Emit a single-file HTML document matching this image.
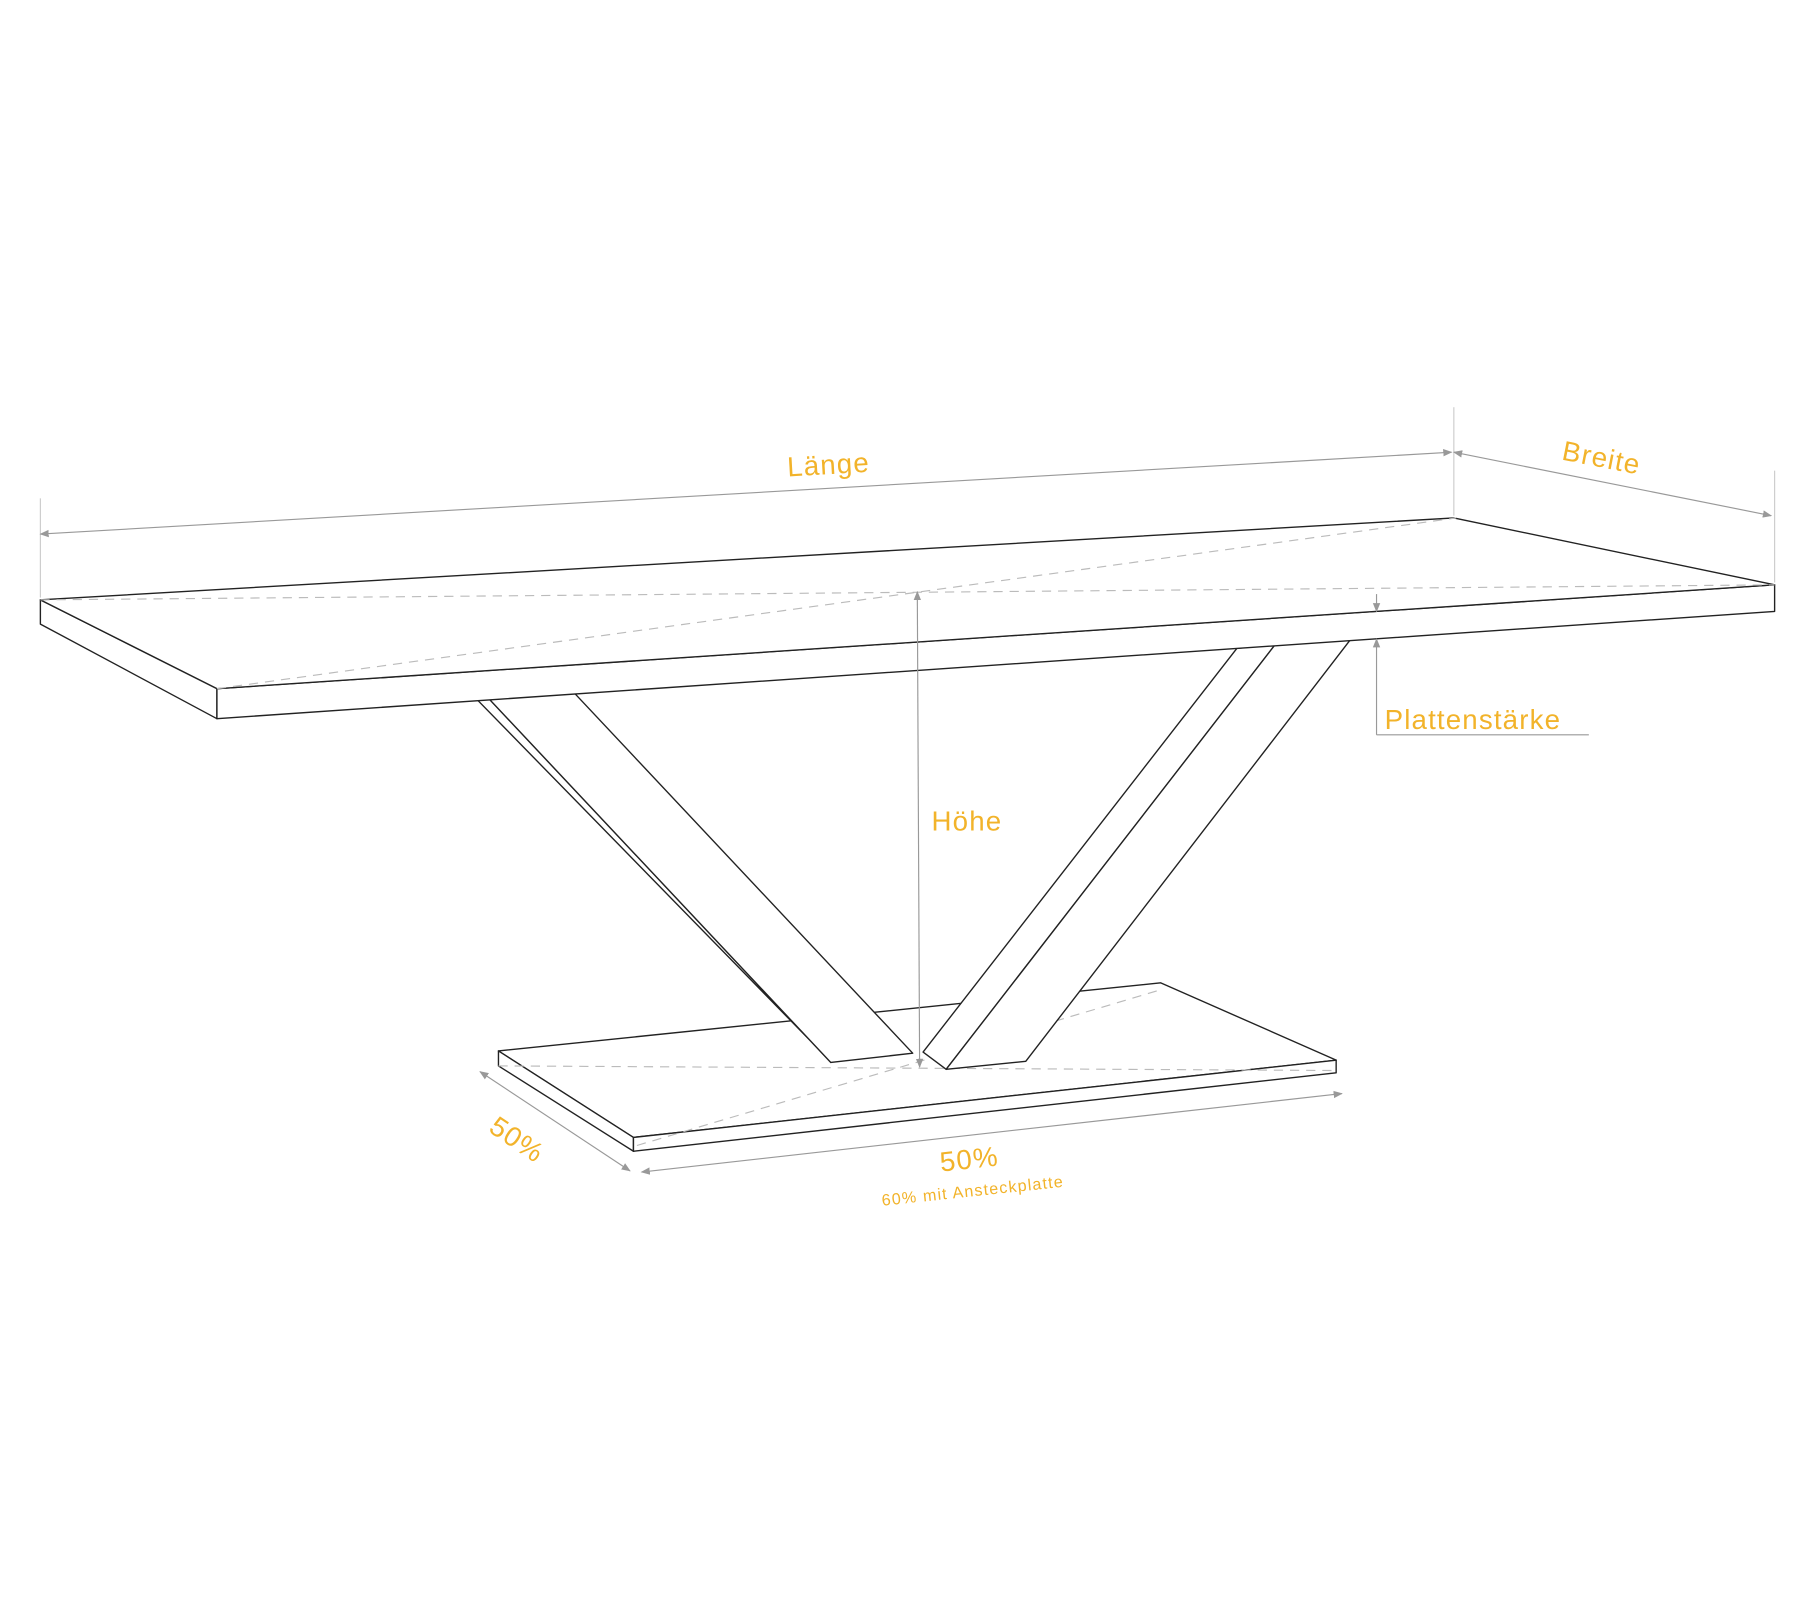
<!DOCTYPE html>
<html><head><meta charset="utf-8"><style>
html,body{margin:0;padding:0;background:#fff;}
svg{display:block;}
text{font-family:"Liberation Sans Narrow","Liberation Sans",sans-serif;fill:#f2b32a;letter-spacing:1px;}
</style></head><body>
<svg width="1800" height="1600" viewBox="0 0 1560 1387" preserveAspectRatio="none" xmlns="http://www.w3.org/2000/svg">
<defs>
<marker id="ar" viewBox="0 0 10 10" refX="9" refY="5" markerWidth="8" markerHeight="8" orient="auto-start-reverse" markerUnits="userSpaceOnUse">
<path d="M0,1 L10,5 L0,9 z" fill="#999"/></marker>
</defs>
<g stroke="#222" stroke-width="1.2" fill="#fff" stroke-linejoin="round">
<!-- base -->
<polygon points="432,911 1006,852 1158,919 549,986"/>
<polygon points="432,911 549,986 549,998 432,924"/>
<polygon points="549,986 1158,919 1158,930 549,998"/>
</g>
<g stroke="#bbb" stroke-width="1" stroke-dasharray="8,6" fill="none">
<line x1="432" y1="924" x2="1158" y2="928"/>
<line x1="552" y1="993" x2="1006" y2="858"/>
</g>
<g stroke="#222" stroke-width="1.2" fill="#fff" stroke-linejoin="round">
<!-- left leg -->
<polygon points="413,606 424,606 720,921 708,908"/>
<polygon points="424,606 498,601 791,913 720,921"/>
<!-- right leg -->
<polygon points="1072,562 1105,559 820,927 800,912"/>
<polygon points="1105,559 1170,555 889,920 820,927"/>
<!-- tabletop -->
<polygon points="35,520 35,541 188,623 188,597"/>
<polygon points="188,597 1538,507 1538,530 188,623"/>
<polygon points="35,520 1260,449 1538,507 188,597"/>
</g>
<g stroke="#bbb" stroke-width="1" stroke-dasharray="8,6" fill="none">
<line x1="35" y1="520" x2="1538" y2="507"/>
<line x1="188" y1="597" x2="1262" y2="449"/>
</g>
<!-- dimension lines -->
<g stroke="#999" stroke-width="1" fill="none">
<line x1="35" y1="432" x2="35" y2="518" stroke="#ccc"/>
<line x1="1260" y1="353" x2="1260" y2="447" stroke="#ccc"/>
<line x1="1538" y1="408" x2="1538" y2="505" stroke="#ccc"/>
<line x1="35" y1="463" x2="1258" y2="392" marker-start="url(#ar)" marker-end="url(#ar)"/>
<line x1="1260" y1="392" x2="1535" y2="447" marker-start="url(#ar)" marker-end="url(#ar)"/>
<line x1="1193" y1="515" x2="1193" y2="530" marker-end="url(#ar)"/>
<line x1="1193" y1="637" x2="1193" y2="554" marker-end="url(#ar)"/>
<line x1="1193" y1="637" x2="1377" y2="637"/>
<line x1="795" y1="513" x2="797" y2="925" marker-start="url(#ar)" marker-end="url(#ar)"/>
<line x1="416" y1="929" x2="546" y2="1015" marker-start="url(#ar)" marker-end="url(#ar)"/>
<line x1="556" y1="1016" x2="1163" y2="948" marker-start="url(#ar)" marker-end="url(#ar)"/>
</g>
<text x="718" y="411" font-size="24" text-anchor="middle" transform="rotate(-3.3 718 403)">Länge</text>
<text x="1388" y="405" font-size="24" text-anchor="middle" transform="rotate(11 1388 397)">Breite</text>
<text x="1200" y="632" font-size="24">Plattenstärke</text>
<text x="838" y="720" font-size="24" text-anchor="middle">Höhe</text>
<text x="448" y="996" font-size="24" text-anchor="middle" transform="rotate(34 448 988)">50%</text>
<text x="840" y="1013" font-size="24" text-anchor="middle" transform="rotate(-6 840 1005)">50%</text>
<text x="843" y="1037" font-size="14" text-anchor="middle" transform="rotate(-6 843 1032)">60% mit Ansteckplatte</text>
</svg>
</body></html>
